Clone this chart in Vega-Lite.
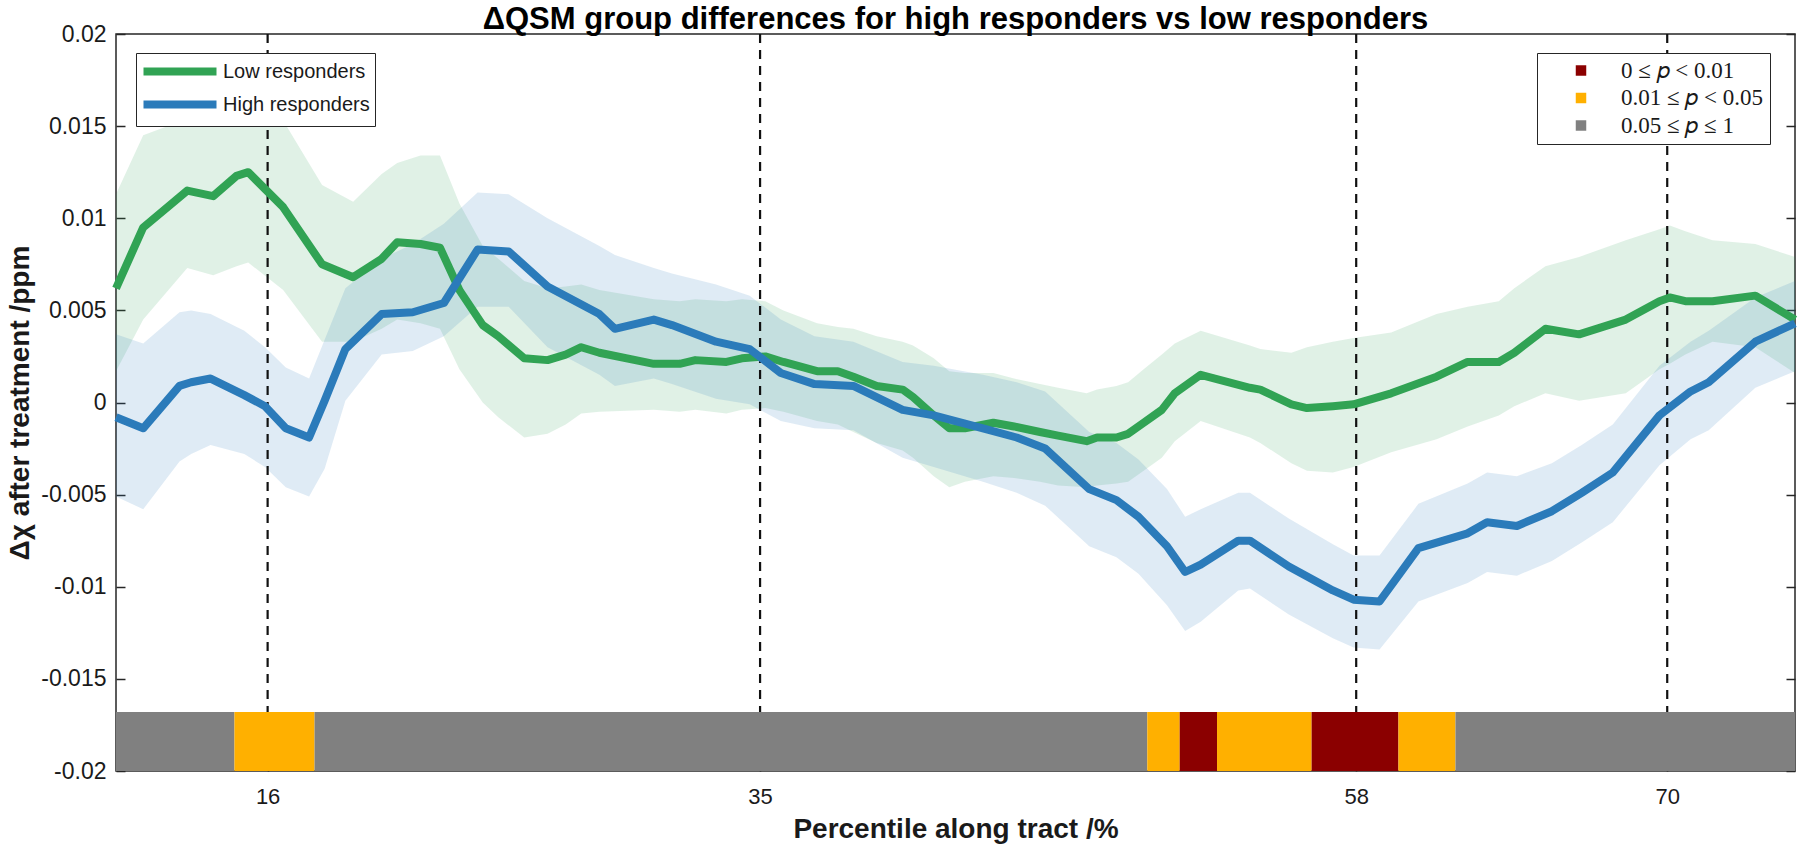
{
  "$schema": "https://vega.github.io/schema/vega-lite/v6.json",
  "width": 1679,
  "height": 737,
  "autosize": {"type": "none"},
  "padding": {"left": 116, "top": 34, "right": 5, "bottom": 79},
  "background": "white",
  "config": {
    "font": "Liberation Sans",
    "view": {"stroke": "#262626", "strokeWidth": 1.5}
  },
  "title": {
    "text": "ΔQSM group differences for high responders vs low responders",
    "font": "Liberation Sans",
    "fontSize": 31,
    "fontWeight": "bold",
    "color": "#000000",
    "anchor": "middle",
    "frame": "group",
    "offset": -13
  },
  "datasets": {
    "series": [
      {"group": "Low responders", "x": 10.15, "mean": 0.0062, "lo": 0.0017, "hi": 0.0113},
      {"group": "Low responders", "x": 11.2, "mean": 0.0095, "lo": 0.0045, "hi": 0.0145},
      {"group": "Low responders", "x": 12.9, "mean": 0.0115, "lo": 0.0073, "hi": 0.0154},
      {"group": "Low responders", "x": 13.9, "mean": 0.0112, "lo": 0.0069, "hi": 0.0155},
      {"group": "Low responders", "x": 14.8, "mean": 0.0123, "lo": 0.0074, "hi": 0.0156},
      {"group": "Low responders", "x": 15.25, "mean": 0.0125, "lo": 0.0076, "hi": 0.0157},
      {"group": "Low responders", "x": 16.6, "mean": 0.0106, "lo": 0.0061, "hi": 0.0153},
      {"group": "Low responders", "x": 18.1, "mean": 0.0075, "lo": 0.0033, "hi": 0.0118},
      {"group": "Low responders", "x": 19.3, "mean": 0.0068, "lo": 0.0033, "hi": 0.0109},
      {"group": "Low responders", "x": 20.4, "mean": 0.0078, "lo": 0.0040, "hi": 0.0124},
      {"group": "Low responders", "x": 21.0, "mean": 0.0087, "lo": 0.0045, "hi": 0.0130},
      {"group": "Low responders", "x": 21.9, "mean": 0.0086, "lo": 0.0043, "hi": 0.0134},
      {"group": "Low responders", "x": 22.65, "mean": 0.0084, "lo": 0.0040, "hi": 0.0134},
      {"group": "Low responders", "x": 23.4, "mean": 0.0061, "lo": 0.0018, "hi": 0.0108},
      {"group": "Low responders", "x": 24.3, "mean": 0.0042, "lo": 0.0000, "hi": 0.0085},
      {"group": "Low responders", "x": 24.9, "mean": 0.0036, "lo": -0.0008, "hi": 0.0078},
      {"group": "Low responders", "x": 25.9, "mean": 0.0024, "lo": -0.0019, "hi": 0.0066},
      {"group": "Low responders", "x": 26.8, "mean": 0.0023, "lo": -0.0017, "hi": 0.0062},
      {"group": "Low responders", "x": 27.5, "mean": 0.0026, "lo": -0.0012, "hi": 0.0063},
      {"group": "Low responders", "x": 28.1, "mean": 0.0030, "lo": -0.0006, "hi": 0.0064},
      {"group": "Low responders", "x": 28.8, "mean": 0.0027, "lo": -0.0005, "hi": 0.0061},
      {"group": "Low responders", "x": 30.9, "mean": 0.0021, "lo": -0.0004, "hi": 0.0056},
      {"group": "Low responders", "x": 31.9, "mean": 0.0021, "lo": -0.0005, "hi": 0.0055},
      {"group": "Low responders", "x": 32.5, "mean": 0.0023, "lo": -0.0004, "hi": 0.0056},
      {"group": "Low responders", "x": 33.7, "mean": 0.0022, "lo": -0.0006, "hi": 0.0055},
      {"group": "Low responders", "x": 34.3, "mean": 0.0024, "lo": -0.0004, "hi": 0.0056},
      {"group": "Low responders", "x": 35.2, "mean": 0.0025, "lo": -0.0003, "hi": 0.0055},
      {"group": "Low responders", "x": 35.9, "mean": 0.0022, "lo": -0.0005, "hi": 0.0050},
      {"group": "Low responders", "x": 37.2, "mean": 0.0017, "lo": -0.0010, "hi": 0.0043},
      {"group": "Low responders", "x": 38.0, "mean": 0.0017, "lo": -0.0012, "hi": 0.0041},
      {"group": "Low responders", "x": 38.6, "mean": 0.0014, "lo": -0.0016, "hi": 0.0040},
      {"group": "Low responders", "x": 39.5, "mean": 0.0009, "lo": -0.0022, "hi": 0.0036},
      {"group": "Low responders", "x": 40.5, "mean": 0.0007, "lo": -0.0026, "hi": 0.0033},
      {"group": "Low responders", "x": 40.9, "mean": 0.0003, "lo": -0.0030, "hi": 0.0031},
      {"group": "Low responders", "x": 41.7, "mean": -0.0007, "lo": -0.0040, "hi": 0.0024},
      {"group": "Low responders", "x": 42.3, "mean": -0.0014, "lo": -0.0046, "hi": 0.0017},
      {"group": "Low responders", "x": 42.9, "mean": -0.0014, "lo": -0.0043, "hi": 0.0016},
      {"group": "Low responders", "x": 44.0, "mean": -0.0011, "lo": -0.0040, "hi": 0.0016},
      {"group": "Low responders", "x": 44.8, "mean": -0.0013, "lo": -0.0041, "hi": 0.0013},
      {"group": "Low responders", "x": 45.8, "mean": -0.0016, "lo": -0.0043, "hi": 0.0010},
      {"group": "Low responders", "x": 46.5, "mean": -0.0018, "lo": -0.0045, "hi": 0.0008},
      {"group": "Low responders", "x": 47.6, "mean": -0.0021, "lo": -0.0046, "hi": 0.0005},
      {"group": "Low responders", "x": 48.0, "mean": -0.0019, "lo": -0.0045, "hi": 0.0007},
      {"group": "Low responders", "x": 48.75, "mean": -0.0019, "lo": -0.0044, "hi": 0.0009},
      {"group": "Low responders", "x": 49.2, "mean": -0.0017, "lo": -0.0043, "hi": 0.0011},
      {"group": "Low responders", "x": 49.8, "mean": -0.0011, "lo": -0.0037, "hi": 0.0018},
      {"group": "Low responders", "x": 50.5, "mean": -0.0004, "lo": -0.0030, "hi": 0.0026},
      {"group": "Low responders", "x": 51.0, "mean": 0.0005, "lo": -0.0021, "hi": 0.0032},
      {"group": "Low responders", "x": 52.0, "mean": 0.0015, "lo": -0.0010, "hi": 0.0039},
      {"group": "Low responders", "x": 53.9, "mean": 0.0008, "lo": -0.0019, "hi": 0.0031},
      {"group": "Low responders", "x": 54.3, "mean": 0.0007, "lo": -0.0022, "hi": 0.0029},
      {"group": "Low responders", "x": 55.5, "mean": -0.0001, "lo": -0.0033, "hi": 0.0027},
      {"group": "Low responders", "x": 56.1, "mean": -0.0003, "lo": -0.0037, "hi": 0.0030},
      {"group": "Low responders", "x": 57.1, "mean": -0.0002, "lo": -0.0038, "hi": 0.0033},
      {"group": "Low responders", "x": 57.9, "mean": -0.0001, "lo": -0.0035, "hi": 0.0035},
      {"group": "Low responders", "x": 59.35, "mean": 0.0005, "lo": -0.0027, "hi": 0.0038},
      {"group": "Low responders", "x": 61.1, "mean": 0.0014, "lo": -0.0020, "hi": 0.0048},
      {"group": "Low responders", "x": 62.3, "mean": 0.0022, "lo": -0.0013, "hi": 0.0052},
      {"group": "Low responders", "x": 63.5, "mean": 0.0022, "lo": -0.0007, "hi": 0.0055},
      {"group": "Low responders", "x": 64.1, "mean": 0.0027, "lo": -0.0002, "hi": 0.0062},
      {"group": "Low responders", "x": 65.3, "mean": 0.0040, "lo": 0.0005, "hi": 0.0074},
      {"group": "Low responders", "x": 66.6, "mean": 0.0037, "lo": 0.0001, "hi": 0.0079},
      {"group": "Low responders", "x": 68.4, "mean": 0.0045, "lo": 0.0005, "hi": 0.0088},
      {"group": "Low responders", "x": 69.7, "mean": 0.0055, "lo": 0.0018, "hi": 0.0094},
      {"group": "Low responders", "x": 70.1, "mean": 0.0057, "lo": 0.0021, "hi": 0.0096},
      {"group": "Low responders", "x": 70.7, "mean": 0.0055, "lo": 0.0026, "hi": 0.0093},
      {"group": "Low responders", "x": 71.75, "mean": 0.0055, "lo": 0.0033, "hi": 0.0088},
      {"group": "Low responders", "x": 73.4, "mean": 0.0058, "lo": 0.0030, "hi": 0.0086},
      {"group": "Low responders", "x": 74.93, "mean": 0.0045, "lo": 0.0016, "hi": 0.0079},
      {"group": "High responders", "x": 10.15, "mean": -0.0008, "lo": -0.0051, "hi": 0.0037},
      {"group": "High responders", "x": 11.2, "mean": -0.0014, "lo": -0.0058, "hi": 0.0032},
      {"group": "High responders", "x": 12.6, "mean": 0.0009, "lo": -0.0032, "hi": 0.0049},
      {"group": "High responders", "x": 13.05, "mean": 0.0011, "lo": -0.0028, "hi": 0.0050},
      {"group": "High responders", "x": 13.8, "mean": 0.0013, "lo": -0.0023, "hi": 0.0048},
      {"group": "High responders", "x": 15.1, "mean": 0.0004, "lo": -0.0028, "hi": 0.0039},
      {"group": "High responders", "x": 15.9, "mean": -0.0002, "lo": -0.0035, "hi": 0.0030},
      {"group": "High responders", "x": 16.7, "mean": -0.0014, "lo": -0.0046, "hi": 0.0019},
      {"group": "High responders", "x": 17.6, "mean": -0.0019, "lo": -0.0051, "hi": 0.0013},
      {"group": "High responders", "x": 18.2, "mean": 0.0001, "lo": -0.0036, "hi": 0.0034},
      {"group": "High responders", "x": 19.0, "mean": 0.0029, "lo": 0.0001, "hi": 0.0062},
      {"group": "High responders", "x": 20.4, "mean": 0.0048, "lo": 0.0026, "hi": 0.0078},
      {"group": "High responders", "x": 21.6, "mean": 0.0049, "lo": 0.0028, "hi": 0.0086},
      {"group": "High responders", "x": 22.8, "mean": 0.0054, "lo": 0.0036, "hi": 0.0097},
      {"group": "High responders", "x": 24.1, "mean": 0.0083, "lo": 0.0052, "hi": 0.0114},
      {"group": "High responders", "x": 25.3, "mean": 0.0082, "lo": 0.0052, "hi": 0.0113},
      {"group": "High responders", "x": 26.8, "mean": 0.0063, "lo": 0.0030, "hi": 0.0100},
      {"group": "High responders", "x": 28.8, "mean": 0.0048, "lo": 0.0015, "hi": 0.0085},
      {"group": "High responders", "x": 29.4, "mean": 0.0040, "lo": 0.0009, "hi": 0.0080},
      {"group": "High responders", "x": 30.9, "mean": 0.0045, "lo": 0.0013, "hi": 0.0073},
      {"group": "High responders", "x": 31.6, "mean": 0.0042, "lo": 0.0010, "hi": 0.0070},
      {"group": "High responders", "x": 33.3, "mean": 0.0033, "lo": 0.0002, "hi": 0.0064},
      {"group": "High responders", "x": 34.6, "mean": 0.0029, "lo": -0.0001, "hi": 0.0058},
      {"group": "High responders", "x": 35.8, "mean": 0.0016, "lo": -0.0010, "hi": 0.0045},
      {"group": "High responders", "x": 37.1, "mean": 0.0010, "lo": -0.0014, "hi": 0.0036},
      {"group": "High responders", "x": 38.6, "mean": 0.0009, "lo": -0.0015, "hi": 0.0033},
      {"group": "High responders", "x": 40.5, "mean": -0.0004, "lo": -0.0030, "hi": 0.0022},
      {"group": "High responders", "x": 41.7, "mean": -0.0007, "lo": -0.0035, "hi": 0.0020},
      {"group": "High responders", "x": 43.6, "mean": -0.0014, "lo": -0.0043, "hi": 0.0015},
      {"group": "High responders", "x": 44.9, "mean": -0.0019, "lo": -0.0049, "hi": 0.0011},
      {"group": "High responders", "x": 46.0, "mean": -0.0025, "lo": -0.0056, "hi": 0.0006},
      {"group": "High responders", "x": 47.7, "mean": -0.0047, "lo": -0.0078, "hi": -0.0016},
      {"group": "High responders", "x": 48.75, "mean": -0.0053, "lo": -0.0084, "hi": -0.0022},
      {"group": "High responders", "x": 49.6, "mean": -0.0062, "lo": -0.0093, "hi": -0.0031},
      {"group": "High responders", "x": 50.7, "mean": -0.0078, "lo": -0.0110, "hi": -0.0047},
      {"group": "High responders", "x": 51.4, "mean": -0.0092, "lo": -0.0124, "hi": -0.0062},
      {"group": "High responders", "x": 52.0, "mean": -0.0088, "lo": -0.0119, "hi": -0.0058},
      {"group": "High responders", "x": 53.45, "mean": -0.0075, "lo": -0.0102, "hi": -0.0049},
      {"group": "High responders", "x": 53.9, "mean": -0.0075, "lo": -0.0101, "hi": -0.0049},
      {"group": "High responders", "x": 55.4, "mean": -0.0089, "lo": -0.0115, "hi": -0.0063},
      {"group": "High responders", "x": 57.1, "mean": -0.0102, "lo": -0.0128, "hi": -0.0077},
      {"group": "High responders", "x": 57.9, "mean": -0.0107, "lo": -0.0133, "hi": -0.0083},
      {"group": "High responders", "x": 58.9, "mean": -0.0108, "lo": -0.0134, "hi": -0.0083},
      {"group": "High responders", "x": 60.4, "mean": -0.0079, "lo": -0.0108, "hi": -0.0055},
      {"group": "High responders", "x": 62.3, "mean": -0.0071, "lo": -0.0098, "hi": -0.0044},
      {"group": "High responders", "x": 63.05, "mean": -0.0065, "lo": -0.0092, "hi": -0.0038},
      {"group": "High responders", "x": 64.2, "mean": -0.0067, "lo": -0.0094, "hi": -0.0040},
      {"group": "High responders", "x": 65.55, "mean": -0.0059, "lo": -0.0086, "hi": -0.0033},
      {"group": "High responders", "x": 66.7, "mean": -0.0049, "lo": -0.0076, "hi": -0.0023},
      {"group": "High responders", "x": 67.9, "mean": -0.0038, "lo": -0.0065, "hi": -0.0012},
      {"group": "High responders", "x": 69.7, "mean": -0.0007, "lo": -0.0034, "hi": 0.0020},
      {"group": "High responders", "x": 70.9, "mean": 0.0006, "lo": -0.0020, "hi": 0.0033},
      {"group": "High responders", "x": 71.6, "mean": 0.0011, "lo": -0.0015, "hi": 0.0039},
      {"group": "High responders", "x": 73.4, "mean": 0.0033, "lo": 0.0008, "hi": 0.0057},
      {"group": "High responders", "x": 74.93, "mean": 0.0043, "lo": 0.0017, "hi": 0.0066}
    ],
    "sig": [
      {"start": 10.15, "end": 14.72, "p": "0.05 ≤ 𝑝 ≤ 1"},
      {"start": 14.72, "end": 17.81, "p": "0.01 ≤ 𝑝 < 0.05"},
      {"start": 17.81, "end": 49.94, "p": "0.05 ≤ 𝑝 ≤ 1"},
      {"start": 49.94, "end": 51.19, "p": "0.01 ≤ 𝑝 < 0.05"},
      {"start": 51.19, "end": 52.63, "p": "0 ≤ 𝑝 < 0.01"},
      {"start": 52.63, "end": 56.28, "p": "0.01 ≤ 𝑝 < 0.05"},
      {"start": 56.28, "end": 59.63, "p": "0 ≤ 𝑝 < 0.01"},
      {"start": 59.63, "end": 61.83, "p": "0.01 ≤ 𝑝 < 0.05"},
      {"start": 61.83, "end": 74.93, "p": "0.05 ≤ 𝑝 ≤ 1"}
    ],
    "landmarks": [{"pct": 16}, {"pct": 35}, {"pct": 58}, {"pct": 70}]
  },
  "resolve": {"axis": {"x": "independent", "y": "independent"}},
  "layer": [
    {
      "data": {"name": "series"},
      "transform": [{"filter": "datum.group == 'Low responders'"}],
      "mark": {"type": "area", "color": "#31a354", "opacity": 0.15},
      "encoding": {
        "x": {
          "field": "x", "type": "quantitative",
          "scale": {"domain": [10.15, 74.93], "nice": false, "zero": false},
          "axis": {
            "values": [16, 35, 58, 70], "format": "d",
            "title": "Percentile along tract /%",
            "titleFont": "Liberation Sans", "titleFontSize": 28, "titleFontWeight": "bold", "titleColor": "#1a1a1a",
            "titlePadding": 8,
            "labelFont": "Liberation Sans", "labelFontSize": 22, "labelColor": "#1a1a1a",
            "labelPadding": 24,
            "domain": false, "grid": false,
            "tickSize": -9, "tickWidth": 1.5, "tickColor": "#262626"
          }
        },
        "y": {
          "field": "lo", "type": "quantitative",
          "scale": {"domain": [-0.02, 0.02], "nice": false, "zero": false},
          "axis": {
            "values": [-0.02, -0.015, -0.01, -0.005, 0, 0.005, 0.01, 0.015, 0.02],
            "labelExpr": "datum.value == 0 ? '0' : replace(format(datum.value, '.3~f'), '\u2212', '-')",
            "title": "Δχ after treatment /ppm",
            "titleFont": "Liberation Sans", "titleFontSize": 28, "titleFontWeight": "bold", "titleColor": "#1a1a1a",
            "titlePadding": 6,
            "labelFont": "Liberation Sans", "labelFontSize": 23, "labelColor": "#1a1a1a",
            "labelPadding": 19,
            "domain": false, "grid": false,
            "tickSize": -9, "tickWidth": 1.5, "tickColor": "#262626"
          }
        },
        "y2": {"field": "hi"}
      }
    },
    {
      "data": {"name": "series"},
      "transform": [{"filter": "datum.group == 'High responders'"}],
      "mark": {"type": "area", "color": "#2b7bba", "opacity": 0.15},
      "encoding": {
        "x": {"field": "x", "type": "quantitative", "axis": null},
        "y": {"field": "lo", "type": "quantitative", "axis": null},
        "y2": {"field": "hi"}
      }
    },
    {
      "mark": {"type": "rule", "color": "#4d4d4d", "strokeWidth": 1.5},
      "encoding": {
        "y": {
          "datum": 0, "type": "quantitative",
          "axis": {
            "orient": "right", "values": [-0.02, -0.015, -0.01, -0.005, 0, 0.005, 0.01, 0.015, 0.02],
            "labels": false, "title": null, "domain": false, "grid": false,
            "tickSize": -9, "tickWidth": 1.5, "tickColor": "#262626"
          }
        }
      }
    },
    {
      "data": {"name": "landmarks"},
      "mark": {"type": "rule", "color": "#111111", "strokeWidth": 2.2, "strokeDash": [9, 7]},
      "encoding": {
        "x": {"field": "pct", "type": "quantitative", "axis": null},
        "y": {"datum": 0.02, "type": "quantitative", "axis": null},
        "y2": {"datum": -0.02}
      }
    },
    {
      "data": {"name": "series"},
      "mark": {"type": "line", "strokeWidth": 8, "strokeJoin": "round", "strokeCap": "butt"},
      "encoding": {
        "x": {"field": "x", "type": "quantitative", "axis": null},
        "y": {"field": "mean", "type": "quantitative", "axis": null},
        "stroke": {
          "field": "group", "type": "nominal",
          "scale": {"domain": ["Low responders", "High responders"], "range": ["#31a354", "#2b7bba"]},
          "legend": {
            "orient": "none", "legendX": 20, "legendY": 19,
            "title": null, "symbolType": "M-4,0L4,0", "symbolSize": 333, "symbolStrokeWidth": 8,
            "symbolOffset": 25.5, "labelOffset": 29.5,
            "labelFont": "Liberation Sans", "labelFontSize": 20, "labelColor": "#1a1a1a",
            "rowPadding": 0, "padding": 5,
            "strokeColor": "#262626", "fillColor": "white"
          }
        },
        "detail": {"field": "group"}
      }
    },
    {
      "data": {"name": "sig"},
      "mark": {"type": "rect"},
      "encoding": {
        "x": {"field": "start", "type": "quantitative", "axis": null},
        "x2": {"field": "end"},
        "y": {"datum": -0.02, "type": "quantitative", "axis": null},
        "y2": {"datum": -0.0168},
        "fill": {
          "field": "p", "type": "nominal",
          "scale": {"domain": ["0 ≤ 𝑝 < 0.01", "0.01 ≤ 𝑝 < 0.05", "0.05 ≤ 𝑝 ≤ 1"], "range": ["#8b0000", "#ffb000", "#808080"]},
          "legend": {
            "orient": "none", "legendX": 1421, "legendY": 19,
            "title": null, "symbolType": "square", "symbolSize": 110, "symbolStrokeWidth": 0,
            "symbolOffset": 26.5, "labelOffset": 28.5,
            "labelFont": "Liberation Serif", "labelFontSize": 23, "labelColor": "#1a1a1a",
            "rowPadding": 3.5, "padding": 6,
            "strokeColor": "#262626", "fillColor": "white"
          }
        }
      }
    }
  ]
}
